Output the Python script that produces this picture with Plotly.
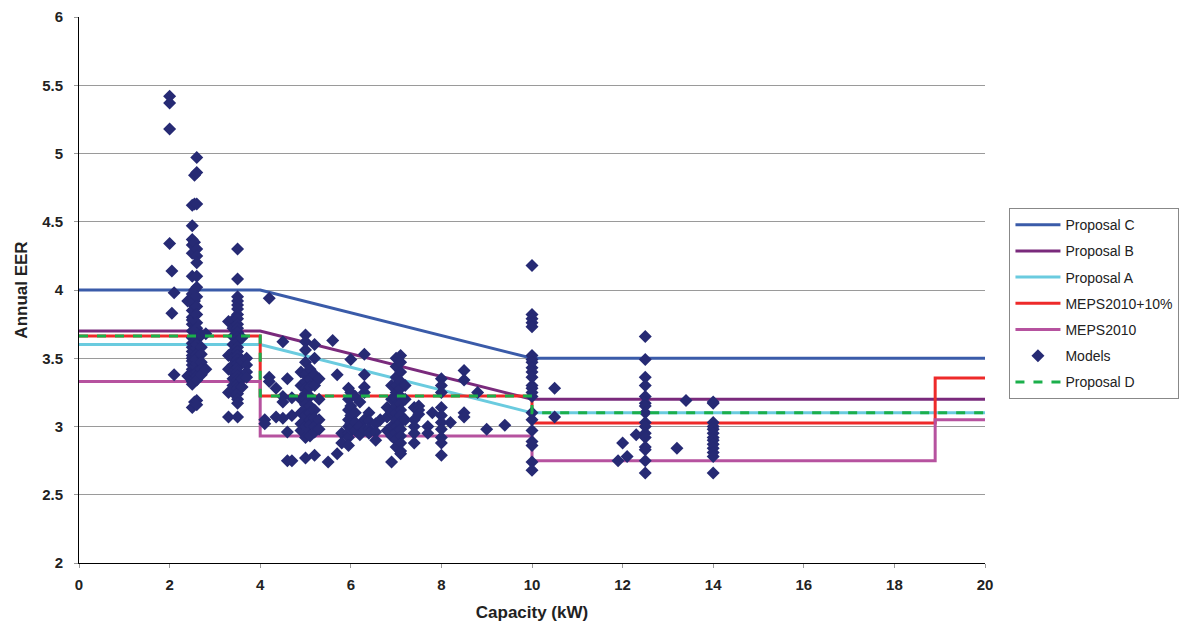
import plotly.graph_objects as go

# ---- Standard / proposal lines ----
propC_x = [0, 4, 10, 20]
propC_y = [4.0, 4.0, 3.5, 3.5]
propB_x = [0, 4, 10, 20]
propB_y = [3.7, 3.7, 3.2, 3.2]
propA_x = [0, 4, 10, 20]
propA_y = [3.6, 3.6, 3.1, 3.1]
meps10_x = [0, 4, 4, 10, 10, 18.9, 18.9, 20]
meps10_y = [3.663, 3.663, 3.223, 3.223, 3.025, 3.025, 3.355, 3.355]
meps_x = [0, 4, 4, 10, 10, 18.9, 18.9, 20]
meps_y = [3.33, 3.33, 2.93, 2.93, 2.75, 2.75, 3.05, 3.05]
propD_x = [0, 4, 4, 10, 10, 20]
propD_y = [3.663, 3.663, 3.223, 3.223, 3.1, 3.1]

# ---- Models (capacity columns and their annual EER values) ----
model_caps = [2.0, 2.05, 2.1, 2.4, 2.5, 2.55, 2.6, 2.7, 2.8,
              3.3, 3.4, 3.5, 3.6, 3.7,
              4.1, 4.2, 4.35, 4.5, 4.6, 4.7, 4.9, 5.0, 5.1, 5.2, 5.3,
              5.5, 5.6, 5.7, 5.8, 5.95, 6.0, 6.1, 6.2, 6.3, 6.4, 6.55, 6.65,
              6.8, 6.9, 7.0, 7.1, 7.2, 7.4, 7.5, 7.7, 7.8, 8.0, 8.2, 8.5,
              8.8, 9.0, 9.4, 10.0, 10.5, 11.9, 12.0, 12.1, 12.3, 12.5,
              13.2, 13.4, 14.0]
model_eers = [
    [5.42, 5.37, 5.18, 4.34],
    [4.14, 3.83],
    [3.98, 3.38],
    [3.92, 3.37],
    [4.62, 4.47, 4.37, 4.33, 4.27, 4.10, 3.97, 3.93, 3.90, 3.85, 3.80, 3.78,
     3.75, 3.70, 3.65, 3.61, 3.58, 3.55, 3.52, 3.50, 3.48, 3.45, 3.42, 3.40,
     3.38, 3.35, 3.33, 3.31, 3.14],
    [4.84, 4.63, 4.35, 4.00, 3.92, 3.62, 3.56, 3.50, 3.44, 3.39, 3.34, 3.18],
    [4.97, 4.86, 4.63, 4.30, 4.25, 4.20, 4.10, 4.02, 3.95, 3.88, 3.82, 3.76,
     3.72, 3.68, 3.64, 3.60, 3.57, 3.53, 3.50, 3.46, 3.43, 3.40, 3.37, 3.34,
     3.19, 3.16],
    [3.67, 3.58, 3.53, 3.47, 3.42, 3.38],
    [3.68, 3.42],
    [3.77, 3.52, 3.42, 3.25, 3.07],
    [3.78, 3.72, 3.66, 3.60, 3.55, 3.50, 3.45, 3.40, 3.35, 3.30, 3.25],
    [4.30, 4.08, 3.95, 3.92, 3.89, 3.86, 3.82, 3.79, 3.75, 3.72, 3.69, 3.65,
     3.62, 3.58, 3.55, 3.52, 3.49, 3.46, 3.43, 3.40, 3.37, 3.34, 3.31, 3.28,
     3.24, 3.20, 3.17, 3.07],
    [3.65, 3.48, 3.35, 3.29],
    [3.50, 3.45, 3.40, 3.36],
    [3.05, 3.02],
    [3.94, 3.36, 3.33],
    [3.28, 3.07],
    [3.62, 3.22, 3.18, 3.06],
    [3.35, 2.96, 2.75],
    [3.21, 3.08, 2.75],
    [3.40, 3.30, 3.20, 3.10, 3.02, 2.97],
    [3.67, 3.62, 3.56, 3.47, 3.38, 3.33, 3.28, 3.24, 3.20, 3.16, 3.12, 3.08,
     3.04, 3.00, 2.96, 2.92, 2.77],
    [3.42, 3.35, 3.29, 3.22, 3.15, 3.10, 3.05, 3.01, 2.97, 2.93],
    [3.60, 3.50, 3.38, 3.30, 3.12, 3.06, 3.00, 2.96, 2.79],
    [3.35, 3.20, 3.05, 2.98],
    [2.74],
    [3.63],
    [3.38, 2.80],
    [2.95, 2.88],
    [3.28, 3.20, 3.12, 3.05, 3.00, 2.95, 2.92, 2.86],
    [3.49, 3.25, 3.15, 3.08, 3.02, 2.98],
    [3.22, 3.10, 3.03, 2.97],
    [3.18, 3.00, 2.94],
    [3.53, 3.38, 3.29, 3.25, 3.05, 2.98],
    [3.10, 3.04, 2.98, 2.95],
    [3.02, 2.96, 2.90],
    [3.05],
    [3.14, 3.07, 2.97],
    [3.30, 3.20, 3.10, 3.00, 2.93, 2.74],
    [3.50, 3.44, 3.36, 3.30, 3.25, 3.20, 3.15, 3.10, 3.05, 3.00, 2.95, 2.90, 2.85],
    [3.52, 3.47, 3.40, 3.33, 3.28, 3.22, 3.17, 3.12, 3.08, 3.03, 2.98, 2.93,
     2.88, 2.82, 2.80],
    [3.30, 3.20, 3.05],
    [3.14, 3.05, 3.00, 2.95, 2.88],
    [3.15, 3.12, 3.09],
    [3.00, 2.95],
    [3.10],
    [3.35, 3.30, 3.25, 3.14, 3.08, 3.03, 2.98, 2.92, 2.88, 2.79],
    [3.03],
    [3.41, 3.34, 3.10, 3.07],
    [3.25],
    [2.98],
    [3.01],
    [4.18, 3.82, 3.79, 3.76, 3.73, 3.52, 3.49, 3.47, 3.43, 3.40, 3.36, 3.30,
     3.28, 3.25, 3.22, 3.10, 3.05, 2.97, 2.89, 2.86, 2.74, 2.68],
    [3.28, 3.07],
    [2.75],
    [2.88],
    [2.78],
    [2.94],
    [3.66, 3.49, 3.36, 3.30, 3.22, 3.17, 3.15, 3.10, 3.03, 3.00, 2.95, 2.92,
     2.85, 2.83, 2.75, 2.66],
    [2.84],
    [3.19],
    [3.18, 3.17, 3.03, 3.00, 2.98, 2.95, 2.92, 2.90, 2.87, 2.84, 2.81, 2.78, 2.66],
]

models_x = []
models_y = []
for cap, eers in zip(model_caps, model_eers):
    for e in eers:
        models_x.append(cap)
        models_y.append(e)

FONT = "Liberation Sans, Arial, sans-serif"

fig = go.Figure()
fig.add_trace(go.Scatter(x=propC_x, y=propC_y, mode="lines", name="Proposal C",
                         legendgroup="g1", line=dict(color="#3A5BA9", width=3)))
fig.add_trace(go.Scatter(x=propB_x, y=propB_y, mode="lines", name="Proposal B",
                         legendgroup="g2", line=dict(color="#7A2A7C", width=3)))
fig.add_trace(go.Scatter(x=propA_x, y=propA_y, mode="lines", name="Proposal A",
                         legendgroup="g3", line=dict(color="#6ACBDF", width=3)))
fig.add_trace(go.Scatter(x=meps10_x, y=meps10_y, mode="lines", name="MEPS2010+10%",
                         legendgroup="g4", line=dict(color="#EE2A2A", width=3)))
fig.add_trace(go.Scatter(x=meps_x, y=meps_y, mode="lines", name="MEPS2010",
                         legendgroup="g5", line=dict(color="#B6529F", width=3)))
fig.add_trace(go.Scatter(x=models_x, y=models_y, mode="markers", name="Models",
                         legendgroup="g6",
                         marker=dict(symbol="diamond", size=10, color="#262A74",
                                     line=dict(width=0))))
fig.add_trace(go.Scatter(x=propD_x, y=propD_y, mode="lines", name="Proposal D",
                         legendgroup="g7",
                         line=dict(color="#1BAF4B", width=3, dash="dash")))

fig.update_layout(
    width=1192, height=630,
    margin=dict(l=79, r=207, t=17, b=67),
    paper_bgcolor="white", plot_bgcolor="white",
    font=dict(family=FONT, size=14, color="#222"),
    showlegend=True,
    legend=dict(x=1.027, y=0.65, xanchor="left", yanchor="top",
                bordercolor="#888", borderwidth=1, bgcolor="white",
                font=dict(family=FONT, size=14, color="#222"),
                tracegroupgap=5, itemwidth=45),
    xaxis=dict(range=[0, 20], dtick=2, tick0=0, showgrid=False, automargin=False,
               showline=True, linecolor="black", linewidth=1,
               ticks="outside", ticklen=4, tickcolor="#999",
               ticklabelstandoff=4,
               tickfont=dict(family=FONT, size=15, weight="bold", color="#222"),
               title=dict(text="Capacity (kW)", standoff=14,
                          font=dict(family=FONT, size=17, weight="bold", color="#222")),
               zeroline=False),
    yaxis=dict(range=[2, 6], dtick=0.5, tick0=2, showgrid=True, automargin=False,
               gridcolor="#9a9a9a", gridwidth=1,
               showline=True, linecolor="black", linewidth=1,
               ticks="outside", ticklen=4, tickcolor="#999",
               ticklabelstandoff=8,
               tickfont=dict(family=FONT, size=15, weight="bold", color="#222"),
               title=dict(text="Annual EER", standoff=10,
                          font=dict(family=FONT, size=17, weight="bold", color="#222")),
               zeroline=False),
)

fig.write_html("out.html")
